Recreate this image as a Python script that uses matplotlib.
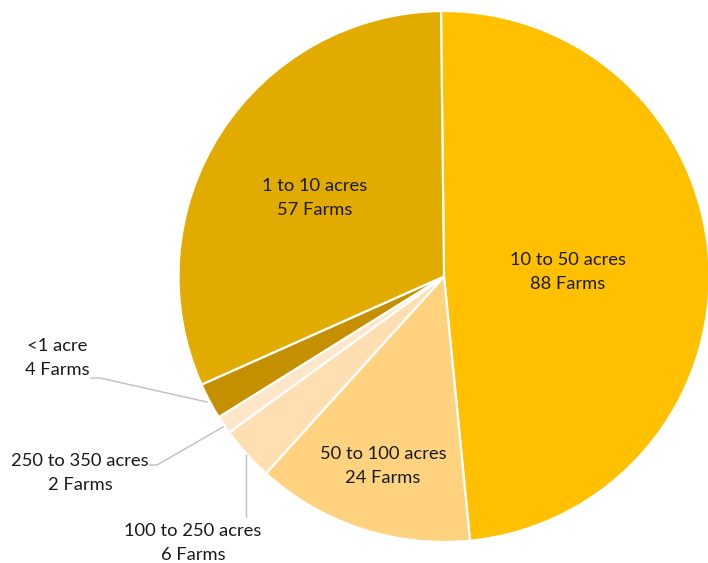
import matplotlib
matplotlib.use("Agg")
import matplotlib.pyplot as plt

categories = ["10 to 50 acres", "50 to 100 acres", "100 to 250 acres",
              "250 to 350 acres", "<1 acre", "1 to 10 acres"]
farms = [88, 24, 6, 2, 4, 57]
colors = ["#FFC000", "#FFD280", "#FFDFB2", "#FFE6C8", "#C49000", "#E2AB00"]

W, H = 708, 563
fig = plt.figure(figsize=(W / 100, H / 100), dpi=100)
ax = fig.add_axes([0, 0, 1, 1])

cx, cy, r = 444, H - 276.5, 265.5
ax.pie(farms, colors=colors, startangle=90.65, counterclock=False,
       center=(cx, cy), radius=r, frame=True,
       wedgeprops=dict(edgecolor="white", linewidth=1.6))
ax.set_xlim(0, W)
ax.set_ylim(0, H)
ax.set_aspect("equal")
ax.axis("off")

font = dict(family=["Lato", "DejaVu Sans"], fontsize=13.2, color="#1a1a1a",
            ha="center", va="center", linespacing=1.62)

def lab(i, x, y):
    ax.text(x, H - y, f"{categories[i]}\n{farms[i]} Farms", **font)

lab(0, 568, 272)
lab(1, 383, 466)
lab(2, 193, 543)
lab(3, 80, 473)
lab(4, 57, 358)
lab(5, 315, 198)

lc = "#BFBFBF"
ax.plot([91, 100, 207], [H - 378, H - 378, H - 402], color=lc, lw=1)
ax.plot([150, 157, 223], [H - 465, H - 465, H - 427], color=lc, lw=1)
ax.plot([246, 246], [H - 455, H - 517], color=lc, lw=1)

fig.savefig("out.png", dpi=100)
